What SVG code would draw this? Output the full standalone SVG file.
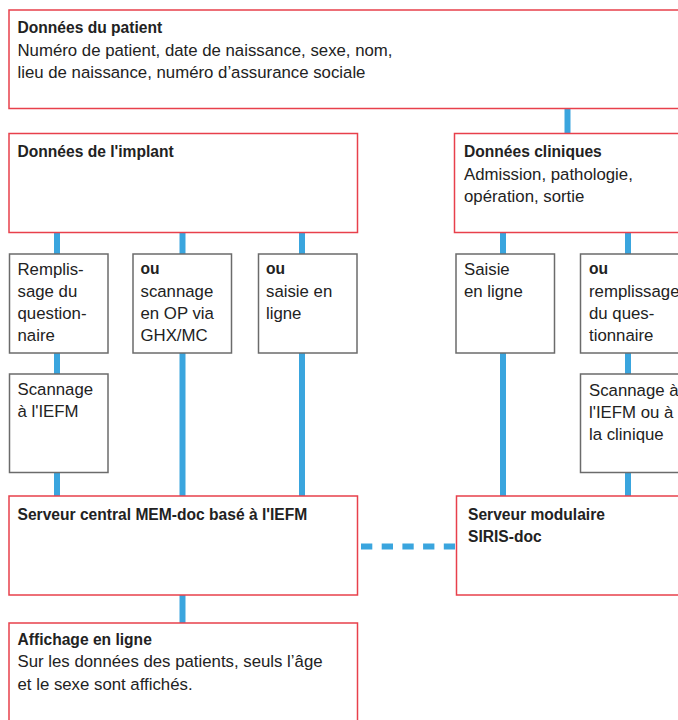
<svg xmlns="http://www.w3.org/2000/svg" width="678" height="720" viewBox="0 0 678 720">
<style>
  .main { fill: #ffffff; stroke: #e8404b; stroke-width: 1.5; }
  .sub { fill: #ffffff; stroke: #6b6b6b; stroke-width: 1.5; }
  .link { stroke: #3aa5de; stroke-width: 6; fill: none; }
  .dash { stroke-dasharray: 11.3 9.4; }
  text { font-family: "Liberation Sans", Arial, sans-serif; fill: #222222; }
  .t { font-size: 15.6px; font-weight: bold; }
  .r { font-size: 16.8px; }
  .b { font-weight: bold; font-size: 15.6px; }
</style>
<rect width="678" height="720" fill="#ffffff"/>
<g id="connectors">
  <line class="link" x1="567.5" y1="108" x2="567.5" y2="134"/>
  <line class="link" x1="57" y1="232" x2="57" y2="254"/>
  <line class="link" x1="57" y1="353" x2="57" y2="374"/>
  <line class="link" x1="57" y1="472" x2="57" y2="496"/>
  <line class="link" x1="182.5" y1="232" x2="182.5" y2="254"/>
  <line class="link" x1="182.5" y1="353" x2="182.5" y2="496"/>
  <line class="link" x1="302" y1="232" x2="302" y2="254"/>
  <line class="link" x1="302" y1="353" x2="302" y2="496"/>
  <line class="link" x1="503" y1="232" x2="503" y2="254"/>
  <line class="link" x1="503" y1="353" x2="503" y2="496"/>
  <line class="link" x1="628" y1="232" x2="628" y2="254"/>
  <line class="link" x1="628" y1="353" x2="628" y2="374"/>
  <line class="link" x1="628" y1="472" x2="628" y2="496"/>
  <line class="link" x1="182.5" y1="595" x2="182.5" y2="623"/>
  <line class="link dash" x1="361" y1="546.5" x2="455" y2="546.5"/>
</g>
<g id="patient">
  <rect class="main" x="9" y="10" width="690" height="98.5"/>
  <text class="t" x="17.5" y="33">Données du patient</text>
  <text class="r" x="17.5" y="56">Numéro de patient, date de naissance, sexe, nom,</text>
  <text class="r" x="17.5" y="78">lieu de naissance, numéro d’assurance sociale</text>
</g>
<g id="implant">
  <rect class="main" x="9" y="133.5" width="348.5" height="99"/>
  <text class="t" x="17.5" y="157">Données de l'implant</text>
</g>
<g id="cliniques">
  <rect class="main" x="454.5" y="133.5" width="240" height="99"/>
  <text class="t" x="464" y="157">Données cliniques</text>
  <text class="r" x="464" y="180">Admission, pathologie,</text>
  <text class="r" x="464" y="202">opération, sortie</text>
</g>
<g id="remplissage">
  <rect class="sub" x="9.5" y="254" width="98.5" height="99"/>
  <text class="r" x="17.5" y="275">Remplis-</text>
  <text class="r" x="17.5" y="297">sage du</text>
  <text class="r" x="17.5" y="319">question-</text>
  <text class="r" x="17.5" y="341">naire</text>
</g>
<g id="scannage-op">
  <rect class="sub" x="133" y="254" width="98.5" height="99"/>
  <text class="b" x="140.5" y="274">ou</text>
  <text class="r" x="140.5" y="297">scannage</text>
  <text class="r" x="140.5" y="319">en OP via</text>
  <text class="r" x="140.5" y="341">GHX/MC</text>
</g>
<g id="saisie-implant">
  <rect class="sub" x="258.5" y="254" width="98.5" height="99"/>
  <text class="b" x="266" y="274">ou</text>
  <text class="r" x="266" y="297">saisie en</text>
  <text class="r" x="266" y="319">ligne</text>
</g>
<g id="saisie-clinique">
  <rect class="sub" x="456" y="254" width="98.5" height="99"/>
  <text class="r" x="464" y="275">Saisie</text>
  <text class="r" x="464" y="297">en ligne</text>
</g>
<g id="remplissage-clinique">
  <rect class="sub" x="580.5" y="254" width="110" height="99"/>
  <text class="b" x="589" y="274">ou</text>
  <text class="r" x="589" y="297">remplissage</text>
  <text class="r" x="589" y="319">du ques-</text>
  <text class="r" x="589" y="341">tionnaire</text>
</g>
<g id="scannage-iefm">
  <rect class="sub" x="9.5" y="374" width="98.5" height="98.5"/>
  <text class="r" x="17.5" y="395">Scannage</text>
  <text class="r" x="17.5" y="417">à l'IEFM</text>
</g>
<g id="scannage-clinique">
  <rect class="sub" x="580.5" y="374" width="110" height="98.5"/>
  <text class="r" x="589" y="396">Scannage à</text>
  <text class="r" x="589" y="418">l'IEFM ou à</text>
  <text class="r" x="589" y="440">la clinique</text>
</g>
<g id="serveur-central">
  <rect class="main" x="9" y="496" width="348.5" height="99"/>
  <text class="t" x="17.5" y="520">Serveur central MEM-doc basé à l'IEFM</text>
</g>
<g id="serveur-modulaire">
  <rect class="main" x="456.5" y="496" width="240" height="99"/>
  <text class="t" x="468" y="520">Serveur modulaire</text>
  <text class="t" x="468" y="542">SIRIS-doc</text>
</g>
<g id="affichage">
  <rect class="main" x="9" y="623" width="348.5" height="110"/>
  <text class="t" x="17.5" y="645">Affichage en ligne</text>
  <text class="r" x="17.5" y="667">Sur les données des patients, seuls l’âge</text>
  <text class="r" x="17.5" y="690">et le sexe sont affichés.</text>
</g>
</svg>
